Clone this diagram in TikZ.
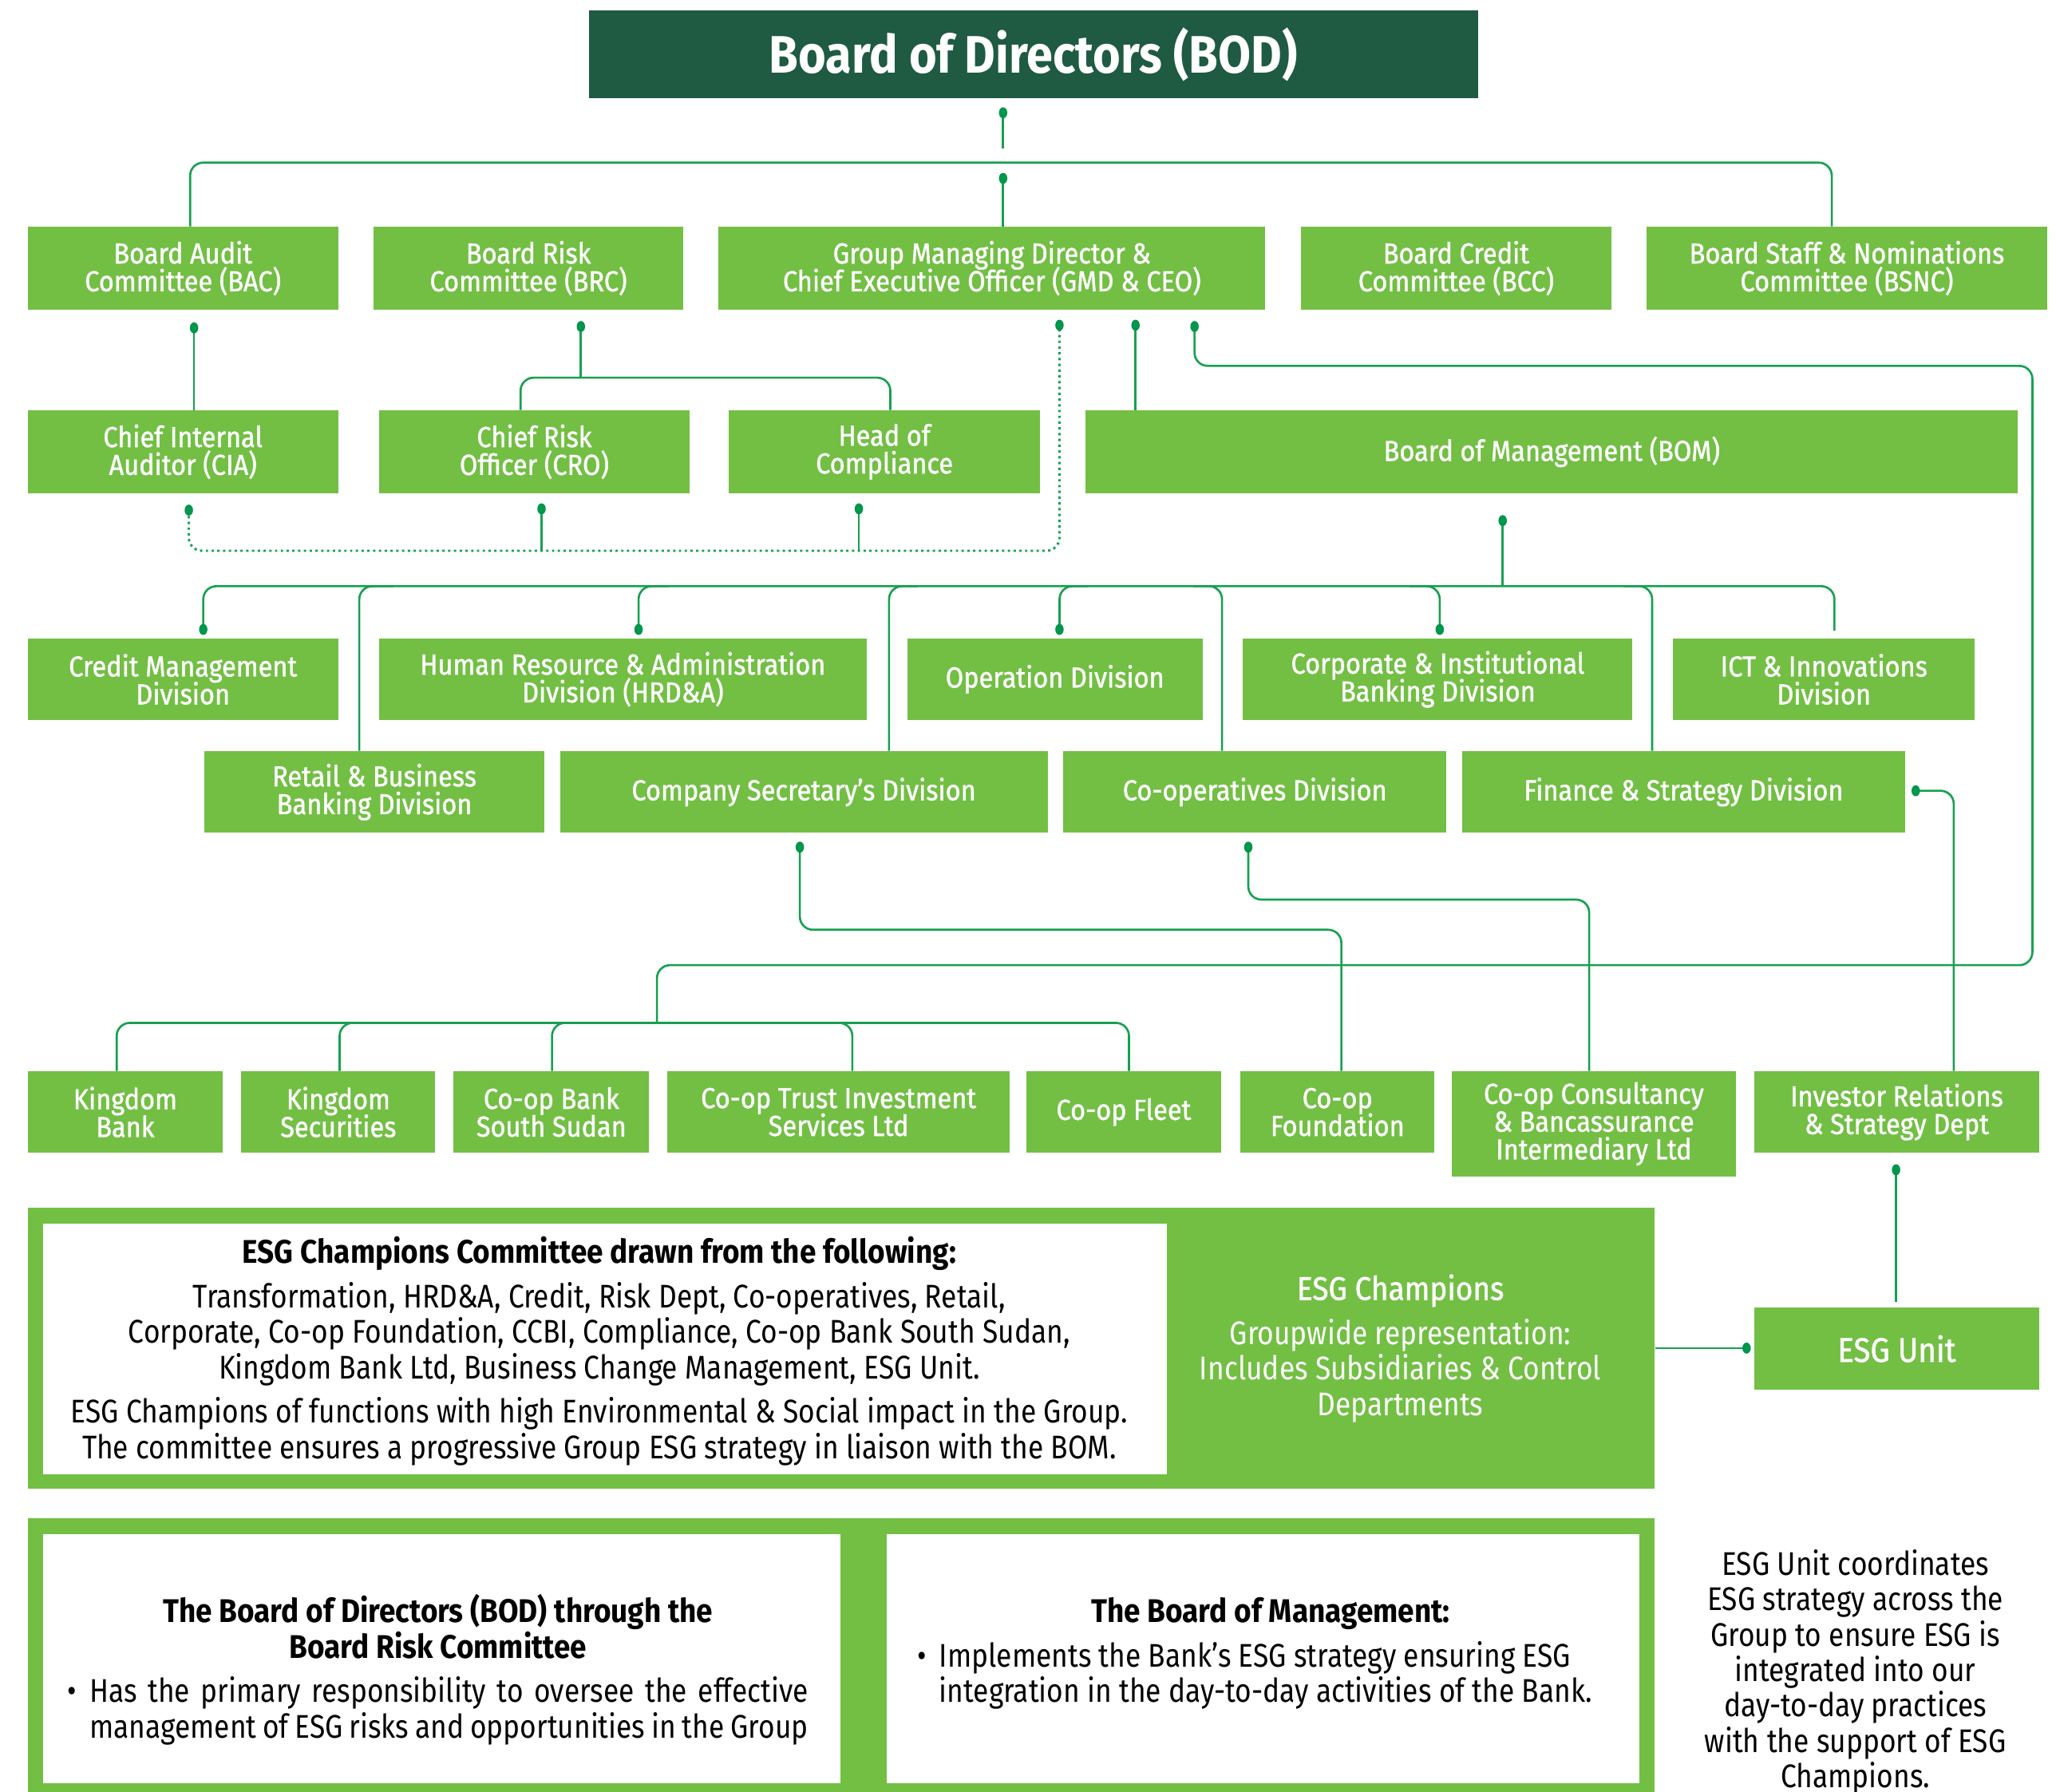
\documentclass[tikz,border=0pt]{standalone}
\usepackage{fontspec}
\setmainfont{Fira Sans}[FakeStretch=0.86, BoldFeatures={FakeStretch=0.9}]
\newfontfamily\medfont{Fira Sans}[FakeStretch=0.9, FakeBold=1.2]
\definecolor{bodg}{RGB}{31,90,66}
\definecolor{boxg}{RGB}{114,191,68}
\definecolor{lc}{RGB}{22,160,80}
\definecolor{dc}{RGB}{0,150,75}
\newcommand\gbox[7][]{\node[gb,#1,minimum width={(#5-#3)*0.5pt},minimum height={(#6-#4)*0.5pt}] (#2) at ({(#3+#5)/2},{(#4+#6)/2}) {#7};}
\newcommand\bodyf{\fontsize{12.5}{13.5}\selectfont}
\protected\def\boxf{\medfont\fontsize{11}{10.6}\selectfont\lineskiplimit=-20pt\relax\lineskip=0pt\relax}
\begin{document}
\begin{tikzpicture}[x=0.5pt,y=-0.5pt,
  gb/.style={fill=boxg, text=white, inner sep=0pt, align=center, font=\boxf},
  conn/.style={draw=lc, line width=0.8pt, rounded corners=5pt},
  dotl/.style={draw=lc, line width=0.9pt, rounded corners=5pt, dash pattern=on 0.9pt off 1.3pt},
  txt/.style={anchor=mid, inner sep=0pt, font=\bodyf, yshift=-1.5pt},
  wtxt/.style={txt, text=white},
  btxt/.style={txt, font=\bodyf\bfseries},
  dotc/.style={fill=dc}]
\useasboundingbox (0,0) rectangle (1568,1366);
% boxes
\gbox[fill=bodg, font=\fontsize{20.1}{24}\selectfont\bfseries]{BOD}{449}{8}{1127}{75}{Board of Directors (BOD)}
\gbox{BAC}{21}{173}{258}{236}{Board Audit\\Committee (BAC)}
\gbox{BRC}{285}{173}{521}{236}{Board Risk\\Committee (BRC)}
\gbox{GMD}{548}{173}{965}{236}{Group Managing Director \&\\Chief Executive Officer (GMD \& CEO)}
\gbox{BCC}{992}{173}{1229}{236}{Board Credit\\Committee (BCC)}
\gbox{BSNC}{1256}{173}{1561}{236}{Board Staff \& Nominations\\Committee (BSNC)}
\gbox{CIA}{21}{313}{258}{376}{Chief Internal\\Auditor (CIA)}
\gbox{CRO}{289}{313}{526}{376}{Chief Risk\\Officer (CRO)}
\gbox{HOC}{556}{313}{793}{376}{Head of\\Compliance}
\gbox{BOM}{828}{313}{1539}{376}{Board of Management (BOM)}
\gbox{CMD}{21}{487}{258}{549}{Credit Management\\Division}
\gbox{HRD}{289}{487}{661}{549}{Human Resource \& Administration\\Division (HRD\&A)}
\gbox{OPD}{692}{487}{917}{549}{Operation Division}
\gbox{CIB}{948}{487}{1245}{549}{Corporate \& Institutional\\Banking Division}
\gbox{ICT}{1276}{487}{1506}{549}{ICT \& Innovations\\Division}
\gbox{RBB}{156}{573}{415}{635}{Retail \& Business\\Banking Division}
\gbox{CSD}{427}{573}{799}{635}{Company Secretary’s Division}
\gbox{COD}{811}{573}{1103}{635}{Co-operatives Division}
\gbox{FSD}{1115}{573}{1453}{635}{Finance \& Strategy Division}
\gbox{KB}{21}{817}{170}{879}{Kingdom\\Bank}
\gbox{KS}{184}{817}{332}{879}{Kingdom\\Securities}
\gbox{CBS}{346}{817}{495}{879}{Co-op Bank\\South Sudan}
\gbox{CTI}{509}{817}{770}{879}{Co-op Trust Investment\\Services Ltd}
\gbox{CF}{783}{817}{931}{879}{Co-op Fleet}
\gbox{CFD}{946}{817}{1094}{879}{Co-op\\Foundation}
\gbox{CCBI}{1107}{817}{1324}{897}{Co-op Consultancy\\\& Bancassurance\\Intermediary Ltd}
\gbox{IRS}{1338}{817}{1555}{879}{Investor Relations\\\& Strategy Dept}
\gbox[font=\medfont\fontsize{13}{14}\selectfont]{ESGU}{1338}{997}{1555}{1060}{ESG Unit}
% ESG champions frame
\gbox{ESGC}{21}{921}{1262}{1135}{}
\gbox[fill=white]{ESGW}{33}{933}{890}{1124}{}
\gbox{BOT}{21}{1158}{1262}{1380}{}
\gbox[fill=white]{BOTL}{33}{1170}{641}{1360}{}
\gbox[fill=white]{BOTR}{676}{1170}{1250}{1360}{}
% texts in ESG box
\node[btxt] (t1) at (457,955) {ESG Champions Committee drawn from the following:};
\node[txt] (t2) at (457,989) {Transformation, HRD\&A, Credit, Risk Dept, Co-operatives, Retail,};
\node[txt] (t3) at (457,1016) {Corporate, Co-op Foundation, CCBI, Compliance, Co-op Bank South Sudan,};
\node[txt] (t4) at (457,1043) {Kingdom Bank Ltd, Business Change Management, ESG Unit.};
\node[txt] (t5) at (457,1077) {ESG Champions of functions with high Environmental \& Social impact in the Group.};
\node[txt] (t6) at (457,1104) {The committee ensures a progressive Group ESG strategy in liaison with the BOM.};
\node[wtxt, font=\medfont\bodyf] (c1) at (1068,983) {ESG Champions};
\node[wtxt] (c2) at (1068,1017) {Groupwide representation:};
\node[wtxt] (c3) at (1068,1044) {Includes Subsidiaries \& Control};
\node[wtxt] (c4) at (1068,1071) {Departments};
% bottom left
\node[btxt] (l1) at (334,1229) {The Board of Directors (BOD) through the};
\node[btxt] (l2) at (334,1256) {Board Risk Committee};
\node[txt] (lb) at (55,1290) {•};
\node[txt, anchor=mid west] (l3) at (68,1290) {\makebox[274pt][s]{Has the primary responsibility to oversee the effective}};
\node[txt, anchor=mid west] (l4) at (68,1317) {\makebox[274pt][s]{management of ESG risks and opportunities in the Group}};
% bottom right
\node[btxt] (r1) at (969,1229) {The Board of Management:};
\node[txt] (rb) at (703,1263) {•};
\node[txt, anchor=mid west] (r2) at (716,1263) {Implements the Bank’s ESG strategy ensuring ESG};
\node[txt, anchor=mid west] (r3) at (716,1290) {integration in the day-to-day activities of the Bank.};
% right side note
\node[txt] (n1) at (1415,1193) {ESG Unit coordinates};
\node[txt] (n2) at (1415,1220) {ESG strategy across the};
\node[txt] (n3) at (1415,1247) {Group to ensure ESG is};
\node[txt] (n4) at (1415,1274) {integrated into our};
\node[txt] (n5) at (1415,1301) {day-to-day practices};
\node[txt] (n6) at (1415,1328) {with the support of ESG};
\node[txt] (n7) at (1415,1355) {Champions.};
% dot coordinates
\coordinate (p0) at (765,86);
\coordinate (p1) at (765,136);
\coordinate (p2) at (148,250);
\coordinate (p3) at (443,249);
\coordinate (p4) at (808,248);
\coordinate (p5) at (144,389);
\coordinate (p6) at (413,388);
\coordinate (p7) at (655,388);
\coordinate (p8) at (866,248);
\coordinate (p9) at (911,249);
\coordinate (p10) at (1146,397);
\coordinate (p11) at (155,480);
\coordinate (p12) at (487,480);
\coordinate (p13) at (808,480);
\coordinate (p14) at (1098,480);
\coordinate (p15) at (610,646);
\coordinate (p16) at (952,646);
\coordinate (p17) at (1461,603);
\coordinate (p18) at (1446,892);
\coordinate (p19) at (1332,1028);
% connectors
\draw[conn] (p0) -- (765,113);
\draw[conn] (BAC.north -| 145,0) -- (145,124) -- (1397,124) -- (BSNC.north -| 1397,0);
\draw[conn] (p1) -- (GMD.north -| p1);
\draw[conn] (p2) -- (CIA.north -| p2);
\draw[conn] (p3) -- (443,288);
\draw[conn] (CRO.north -| 397,0) -- (397,288) -- (679,288) -- (HOC.north -| 679,0);
\draw[dotl] (p5) -- (144,420) -- (808,420) -- (p4);
\draw[conn] (p6) -- (413,420);
\draw[conn] (p7) -- (655,420);
\draw[conn] (p8) -- (BOM.north -| p8);
\draw[conn] (p9) -- (911,279) -- (1550,279) -- (1550,736) -- (501,736) -- (501,780);
\draw[conn] (KB.north -| 89,0) -- (89,780) -- (861,780) -- (CF.north -| 861,0);
\draw[conn] (285,780) -- (259,780) -- (KS.north -| 259,0);
\draw[conn] (445,780) -- (421,780) -- (CBS.north -| 421,0);
\draw[conn] (625,780) -- (650,780) -- (CTI.north -| 650,0);
\draw[conn] (p10) -- (1146,447);
\draw[conn] (p11) -- (155,447) -- (1399,447) -- (1399,481);
\draw[conn] (300,447) -- (274,447) -- (RBB.north -| 274,0);
\draw[conn] (510,447) -- (487,447) -- (p12);
\draw[conn] (700,447) -- (678,447) -- (CSD.north -| 678,0);
\draw[conn] (830,447) -- (808,447) -- (p13);
\draw[conn] (910,447) -- (932,447) -- (COD.north -| 932,0);
\draw[conn] (1075,447) -- (1098,447) -- (p14);
\draw[conn] (1238,447) -- (1260,447) -- (FSD.north -| 1260,0);
\draw[conn] (p15) -- (610,709) -- (1023,709) -- (CFD.north -| 1023,0);
\draw[conn] (p16) -- (952,686) -- (1212,686) -- (CCBI.north -| 1212,0);
\draw[conn] (p17) -- (1490,603) -- (IRS.north -| 1490,0);
\draw[conn] (p18) -- (1446,993);
\draw[conn] (ESGC.east |- p19) -- (p19);
% dots
\foreach \p in {p0,p1,p2,p3,p4,p5,p6,p7,p8,p9,p10,p11,p12,p13,p14,p15,p16,p17,p18,p19}
  \fill[dotc] (\p) ellipse (1.6pt and 2.1pt);
\end{tikzpicture}
\end{document}
